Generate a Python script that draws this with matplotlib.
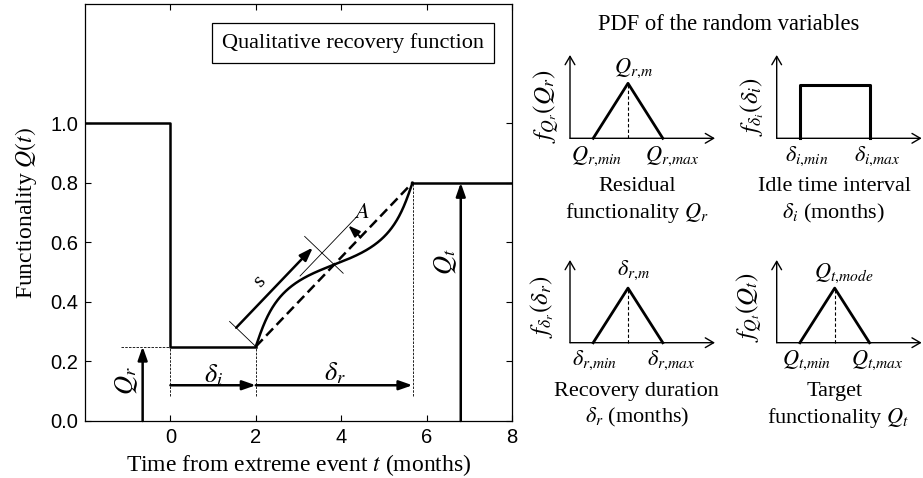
import numpy as np
import matplotlib
matplotlib.use("Agg")
import matplotlib.pyplot as plt

plt.rcParams['font.family'] = ['Liberation Serif', 'DejaVu Serif']
plt.rcParams['mathtext.fontset'] = 'stix'

# ---- recovery scenario -------------------------------------------------
t_range = (-2.0, 8.0)
q_range = (0.0, 1.4)
t_event = 0.0
q_initial = 1.0
q_residual = 0.25
idle_time = 2.0
recovery_time = 3.67
q_target = 0.8
amp_ratio = 0.074          # oscillation amplitude / chord length of the recovery path
a_marker_pos = 0.668       # position (fraction of chord) of the amplitude arrow

x_ticks = [0, 2, 4, 6, 8]
y_ticks = [0.0, 0.2, 0.4, 0.6, 0.8, 1.0]

# ---- schematic pdfs (normalised support) --------------------------------
tri_support = [0.16, 0.40, 0.64]   # min, mode, max
tri_peak = 0.66
uni_support = [0.16, 0.64]
uni_height = 0.64

W, H = 923, 478
fig = plt.figure(figsize=(W / 100, H / 100), dpi=100)

ax = fig.add_axes([85 / W, 1 - 421 / H, 427 / W, 417 / H])
ax.set_xlim(*t_range)
ax.set_ylim(*q_range)
for s in ax.spines.values():
    s.set_linewidth(0.9)

ax.set_xticks(x_ticks, labels=[str(v) for v in x_ticks],
              fontfamily='Liberation Sans', fontsize=14.5)
ax.set_yticks(y_ticks, labels=[f"{v:.1f}" for v in y_ticks],
              fontfamily='Liberation Sans', fontsize=14.5)
ax.tick_params(direction='in', top=True, right=True, length=4, width=0.8, pad=5)
ax.set_xlabel("Time from extreme event $t$ (months)", fontsize=17, labelpad=4)
ax.set_ylabel("Functionality $Q(t)$", fontsize=17, labelpad=8)

t_start = t_event + idle_time
t_end = t_start + recovery_time
LW = 1.8

# step parts of the functionality profile
ax.plot([t_range[0], t_event, t_event, t_start],
        [q_initial, q_initial, q_residual, q_residual], color='k', lw=LW)
ax.plot([t_end, t_range[1]], [q_target, q_target], color='k', lw=LW)

# work in screen-like units so the oscillation is perpendicular on the page
sx = 427 / (t_range[1] - t_range[0])
sy = 417 / (q_range[1] - q_range[0])
P0 = np.array([t_start * sx, q_residual * sy])
P1 = np.array([t_end * sx, q_target * sy])
chord = P1 - P0
L = np.hypot(*chord)
d = chord / L
n = np.array([-d[1], d[0]])


def along(u, off):
    u = np.atleast_1d(u)
    off = np.broadcast_to(np.atleast_1d(off), u.shape)
    p = P0 + np.outer(u, chord) + np.outer(off * L, n)
    return p[:, 0] / sx, p[:, 1] / sy


u = np.linspace(0, 1, 400)
cx, cy = along(u, amp_ratio * np.sin(2 * np.pi * u))
ax.plot(cx, cy, color='k', lw=LW)

# linear recovery
lx, ly = along(np.array([0.0, 1.0]), 0.0)
ax.plot(lx, ly, color='k', lw=LW, dashes=(4, 2))

# thin guide lines
thin = dict(color='k', lw=0.6)
ax.plot([-1.15, t_event], [q_residual, q_residual], **thin, dashes=(3, 1.5))
for tx, top in [(t_event, q_residual), (t_start, q_residual), (t_end, q_target)]:
    ax.plot([tx, tx], [0.085, top], **thin, dashes=(3, 1.5))

gx, gy = along(np.array([0.0, 0.0]), np.array([0.0, 0.16]))
ax.plot(gx, gy, **thin)
gx, gy = along(np.array([0.5, 0.5]), np.array([-0.055, 0.18]))
ax.plot(gx, gy, **thin)
gx, gy = along(np.array([0.36, 0.72]), np.array([amp_ratio, amp_ratio]))
ax.plot(gx, gy, **thin)


def arrow(a, b, lw=LW, style='-|>,head_length=0.8,head_width=0.28', axes=ax):
    axes.annotate('', xy=b, xytext=a,
                  arrowprops=dict(arrowstyle=style, color='k', lw=lw,
                                  shrinkA=0, shrinkB=0),
                  annotation_clip=False)


# s arrow along the chord
sx0, sy0 = along(np.array([0.0, 0.49]), np.array([0.12, 0.12]))
arrow((sx0[0], sy0[0]), (sx0[1], sy0[1]))
ax.text(2.10, 0.467, "s", fontsize=16, rotation=46, ha='center', va='center')

# amplitude arrow
ax_, ay_ = along(np.array([a_marker_pos, a_marker_pos]), np.array([0.0, amp_ratio]))
arrow((ax_[0], ay_[0]), (ax_[1], ay_[1]), lw=1.4,
      style='-|>,head_length=0.7,head_width=0.25')
ax.text(4.49, 0.697, "$A$", fontsize=16, ha='center', va='center')

# Q_r and Q_t arrows
arrow((-0.65, 0.0), (-0.65, q_residual))
ax.text(-1.03, 0.136, "$Q_r$", fontsize=19, rotation=90, ha='center', va='center')
arrow((6.8, 0.0), (6.8, q_target))
ax.text(6.44, 0.534, "$Q_t$", fontsize=19, rotation=90, ha='center', va='center')

# time interval arrows
arrow((t_event, 0.12), (t_start, 0.12))
ax.text(1.0, 0.153, r"$\delta_i$", fontsize=19, ha='center', va='center')
arrow((t_start, 0.12), (t_end, 0.12))
ax.text(3.86, 0.16, r"$\delta_r$", fontsize=19, ha='center', va='center')

ax.text(4.27, 1.27, "Qualitative recovery function", fontsize=16,
        ha='center', va='center',
        bbox=dict(boxstyle='square,pad=0.45', fc='white', ec='k', lw=0.9))

# ---- PDF panels -----------------------------------------------------------
fig.text(729 / W, 1 - 25 / H, "PDF of the random variables",
         ha='center', va='center', fontsize=16.3)

panels = [
    # origin_x, origin_y, height_px, kind, labels
    (570.0, 138.3, 83.3, 'tri', [
        (-0.16, 0.38, r"$f_{Q_r}(Q_r)$", 18, 90),
        (0.437, 0.84, r"$Q_{r{,}m}$", 16, 0),
        (0.184, -0.22, r"$Q_{r{,}min}$", 16, 0),
        (0.70, -0.22, r"$Q_{r{,}max}$", 16, 0),
        (0.46, -0.58, "Residual", 16, 0),
        (0.46, -0.90, "functionality $Q_r$", 16, 0)]),
    (776.7, 138.3, 83.3, 'uni', [
        (-0.172, 0.38, r"$f_{\delta_i}(\delta_i)$", 18, 90),
        (0.207, -0.22, r"$\delta_{i{,}min}$", 16, 0),
        (0.69, -0.22, r"$\delta_{i{,}max}$", 16, 0),
        (0.402, -0.58, "Idle time interval", 16, 0),
        (0.39, -0.90, r"$\delta_i$ (months)", 16, 0)]),
    (570.0, 342.7, 82.7, 'tri', [
        (-0.195, 0.435, r"$f_{\delta_r}(\delta_r)$", 18, 90),
        (0.437, 0.88, r"$\delta_{r{,}m}$", 16, 0),
        (0.172, -0.21, r"$\delta_{r{,}min}$", 16, 0),
        (0.70, -0.21, r"$\delta_{r{,}max}$", 16, 0),
        (0.46, -0.59, "Recovery duration", 16, 0),
        (0.46, -0.91, r"$\delta_r$ (months)", 16, 0)]),
    (776.7, 342.7, 82.7, 'tri', [
        (-0.184, 0.435, r"$f_{Q_t}(Q_t)$", 18, 90),
        (0.46, 0.84, r"$Q_{t{,}mode}$", 16, 0),
        (0.207, -0.21, r"$Q_{t{,}min}$", 16, 0),
        (0.69, -0.21, r"$Q_{t{,}max}$", 16, 0),
        (0.40, -0.59, "Target", 16, 0),
        (0.42, -0.91, "functionality $Q_t$", 16, 0)]),
]

for ox, oy, hp, kind, labels in panels:
    pa = fig.add_axes([ox / W, 1 - oy / H, 145 / W, hp / H])
    pa.set_xlim(0, 1)
    pa.set_ylim(0, 1)
    pa.axis('off')
    open_head = '->,head_length=0.6,head_width=0.35'
    arrow((0, 0), (1, 0), lw=1.0, style=open_head, axes=pa)
    arrow((0, 0), (0, 1), lw=1.0, style=open_head, axes=pa)
    if kind == 'tri':
        a, m, b = tri_support
        pa.plot([a, m, b], [0, tri_peak, 0], color='k', lw=2.0, clip_on=False)
        pa.plot([m, m], [0, tri_peak], color='k', lw=0.8, dashes=(3, 2),
                clip_on=False)
    else:
        a, b = uni_support
        pa.plot([a, a, b, b], [0, uni_height, uni_height, 0], color='k',
                lw=2.2, clip_on=False)
    for x, y, txt, fs, rot in labels:
        pa.text(x, y, txt, fontsize=fs, rotation=rot, ha='center', va='center')

fig.savefig("out.png", dpi=100)
